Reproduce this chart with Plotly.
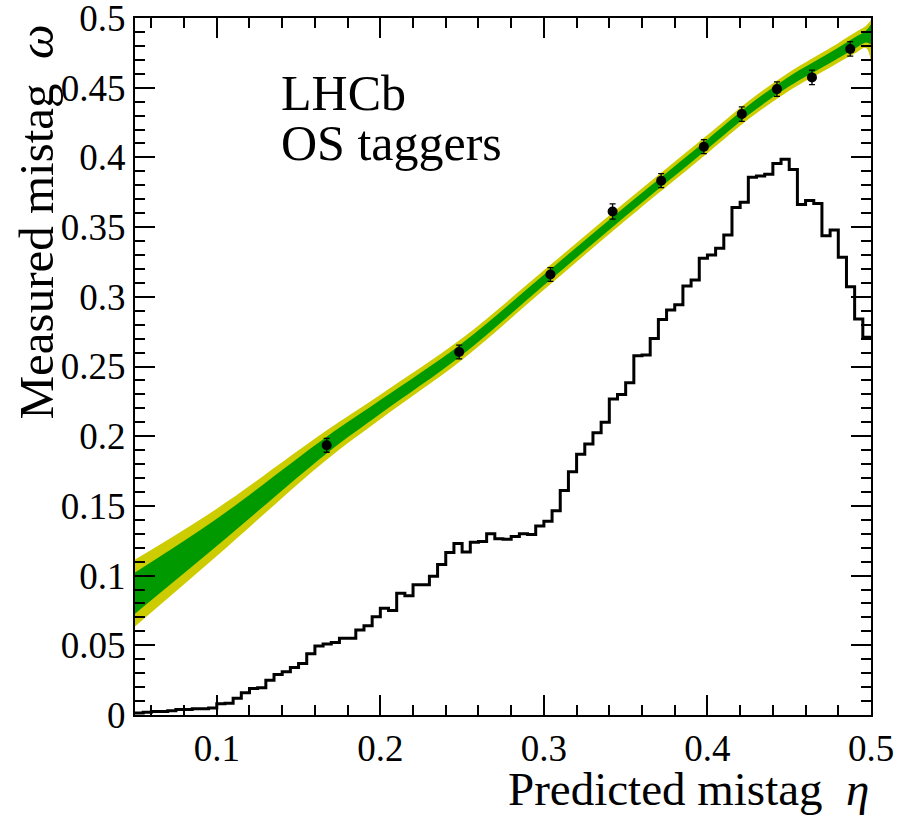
import numpy as np
import plotly.graph_objects as go

# Predicted-mistag distribution of OS-tagged candidates (arbitrary normalisation),
# 90 bins of width 0.005 between 0.05 and 0.5
hist_lo = 0.05
hist_width = 0.005
hist_counts = [
    0.0015, 0.002, 0.0025, 0.0025, 0.003, 0.004, 0.004, 0.0045, 0.0045, 0.005,
    0.008, 0.0085, 0.012, 0.016, 0.019, 0.0195, 0.025, 0.029, 0.031, 0.034,
    0.037, 0.044, 0.0495, 0.051, 0.052, 0.055, 0.055, 0.061, 0.064, 0.0705,
    0.0765, 0.075, 0.0873, 0.0856, 0.0935, 0.0935, 0.0995, 0.108, 0.1165, 0.123,
    0.117, 0.124, 0.1245, 0.130, 0.1265, 0.126, 0.128, 0.130, 0.1295, 0.1356,
    0.139, 0.1466, 0.161, 0.1745, 0.187, 0.1944, 0.2025, 0.21, 0.2267, 0.230,
    0.2384, 0.2578, 0.2583, 0.270, 0.2837, 0.2905, 0.2943, 0.3077, 0.312, 0.3276,
    0.330, 0.3348, 0.3443, 0.364, 0.3678, 0.3857, 0.3867, 0.388, 0.3957, 0.3986,
    0.3914, 0.3663, 0.369, 0.367, 0.3438, 0.348, 0.3283, 0.3072, 0.284, 0.271,
]

# Measured mistag in bins of predicted mistag
eta_points = [0.1672, 0.2482, 0.3040, 0.3420, 0.3717, 0.3978, 0.4210, 0.4425, 0.4639, 0.4873]
omega_points = [0.1935, 0.2604, 0.3160, 0.3612, 0.3833, 0.4077, 0.4311, 0.4490, 0.4574, 0.4778]
omega_errors = [0.0050, 0.0049, 0.0050, 0.0055, 0.0050, 0.0050, 0.0052, 0.0052, 0.0052, 0.0052]

# Calibration fit: 1 sigma (inner) and 2 sigma (outer) confidence bands
band_eta = [0.05, 0.1, 0.167, 0.2, 0.25, 0.3, 0.35, 0.4, 0.425, 0.45, 0.475, 0.49, 0.497, 0.5]
outer_hi = [0.1115, 0.148, 0.204, 0.2298, 0.2702, 0.319, 0.3681, 0.416, 0.4403, 0.4611,
            0.4785, 0.4895, 0.4945, 0.4985]
outer_lo = [0.0635, 0.114, 0.183, 0.2122, 0.2548, 0.305, 0.3549, 0.403, 0.4273, 0.4479,
            0.4645, 0.4745, 0.4785, 0.468]
inner_hi = [0.1023, 0.1408, 0.1995, 0.2259, 0.2667, 0.3158, 0.365, 0.4129, 0.4372, 0.458,
            0.4752, 0.486, 0.491, 0.4955]
inner_lo = [0.0727, 0.1212, 0.1875, 0.2161, 0.2583, 0.3082, 0.358, 0.4061, 0.4304, 0.451,
            0.4678, 0.478, 0.4825, 0.481]

x_tickvals = [0.1, 0.2, 0.3, 0.4, 0.5]
x_ticktext = ["0.1", "0.2", "0.3", "0.4", "0.5"]
y_tickvals = [0, 0.05, 0.1, 0.15, 0.2, 0.25, 0.3, 0.35, 0.4, 0.45, 0.5]
y_ticktext = ["0", "0.05", "0.1", "0.15", "0.2", "0.25", "0.3", "0.35", "0.4", "0.45", "0.5"]

GREEN = "#009900"
YELLOW = "#cccc00"
SERIF = "Liberation Serif, Times New Roman, serif"

fig = go.Figure()

# confidence bands: lower edge, then upper edge filled down to it
for lo, hi, col in [(outer_lo, outer_hi, YELLOW), (inner_lo, inner_hi, GREEN)]:
    fig.add_trace(go.Scatter(x=band_eta, y=lo, mode="lines",
                             line=dict(width=0, shape="spline", color=col),
                             hoverinfo="skip", showlegend=False))
    fig.add_trace(go.Scatter(x=band_eta, y=hi, mode="lines", fill="tonexty",
                             fillcolor=col,
                             line=dict(width=0, shape="spline", color=col),
                             hoverinfo="skip", showlegend=False))

# step outline of the eta distribution
edges = hist_lo + hist_width * np.arange(len(hist_counts) + 1)
fig.add_trace(go.Scatter(x=edges, y=list(hist_counts) + [hist_counts[-1]],
                         mode="lines", line=dict(color="black", width=3, shape="hv"),
                         showlegend=False, hoverinfo="skip"))

# measured points
fig.add_trace(go.Scatter(x=eta_points, y=omega_points, mode="markers",
                         marker=dict(color="black", size=10),
                         error_y=dict(type="data", array=omega_errors, color="black",
                                      thickness=1.3, width=3),
                         showlegend=False))

axis_common = dict(
    showline=True, linecolor="black", linewidth=2, mirror="allticks",
    ticks="inside", ticklen=20, tickwidth=1.8, tickcolor="black",
    showgrid=False, zeroline=False, automargin=False, ticklabeloverflow="allow",
    tickfont=dict(family=SERIF, size=37, color="black"),
)

fig.update_xaxes(range=[0.05, 0.5], tickvals=x_tickvals, ticktext=x_ticktext,
                 minor=dict(ticks="inside", ticklen=10, tickwidth=1.8, tickcolor="black",
                            tick0=0, dtick=0.02, showgrid=False),
                 **axis_common)
fig.update_yaxes(range=[0, 0.5], tickvals=y_tickvals, ticktext=y_ticktext,
                 minor=dict(ticks="inside", ticklen=10, tickwidth=1.8, tickcolor="black",
                            tick0=0, dtick=0.01, showgrid=False),
                 **axis_common)

fig.add_annotation(text="Predicted mistag  <i>η</i>", xref="paper", yref="paper",
                   x=1, y=0, xanchor="right", yanchor="top", yshift=-46,
                   showarrow=False, font=dict(family=SERIF, size=47, color="black"))
fig.add_annotation(text="Measured mistag  <i>ω</i>", xref="paper", yref="paper",
                   x=0, y=1, xanchor="center", yanchor="top", xshift=-99, yshift=-5,
                   textangle=-90, showarrow=False,
                   font=dict(family=SERIF, size=49, color="black"))
fig.add_annotation(text="LHCb", xref="x", yref="y",
                   x=0.138, y=0.446, xanchor="left", yanchor="middle",
                   showarrow=False, font=dict(family=SERIF, size=50, color="black"))
fig.add_annotation(text="OS taggers", xref="x", yref="y",
                   x=0.138, y=0.410, xanchor="left", yanchor="middle",
                   showarrow=False, font=dict(family=SERIF, size=50, color="black"))

fig.update_layout(
    width=897, height=818,
    margin=dict(l=135, r=26, t=18, b=103),
    plot_bgcolor="white", paper_bgcolor="white",
)

fig.write_html("out.html")
